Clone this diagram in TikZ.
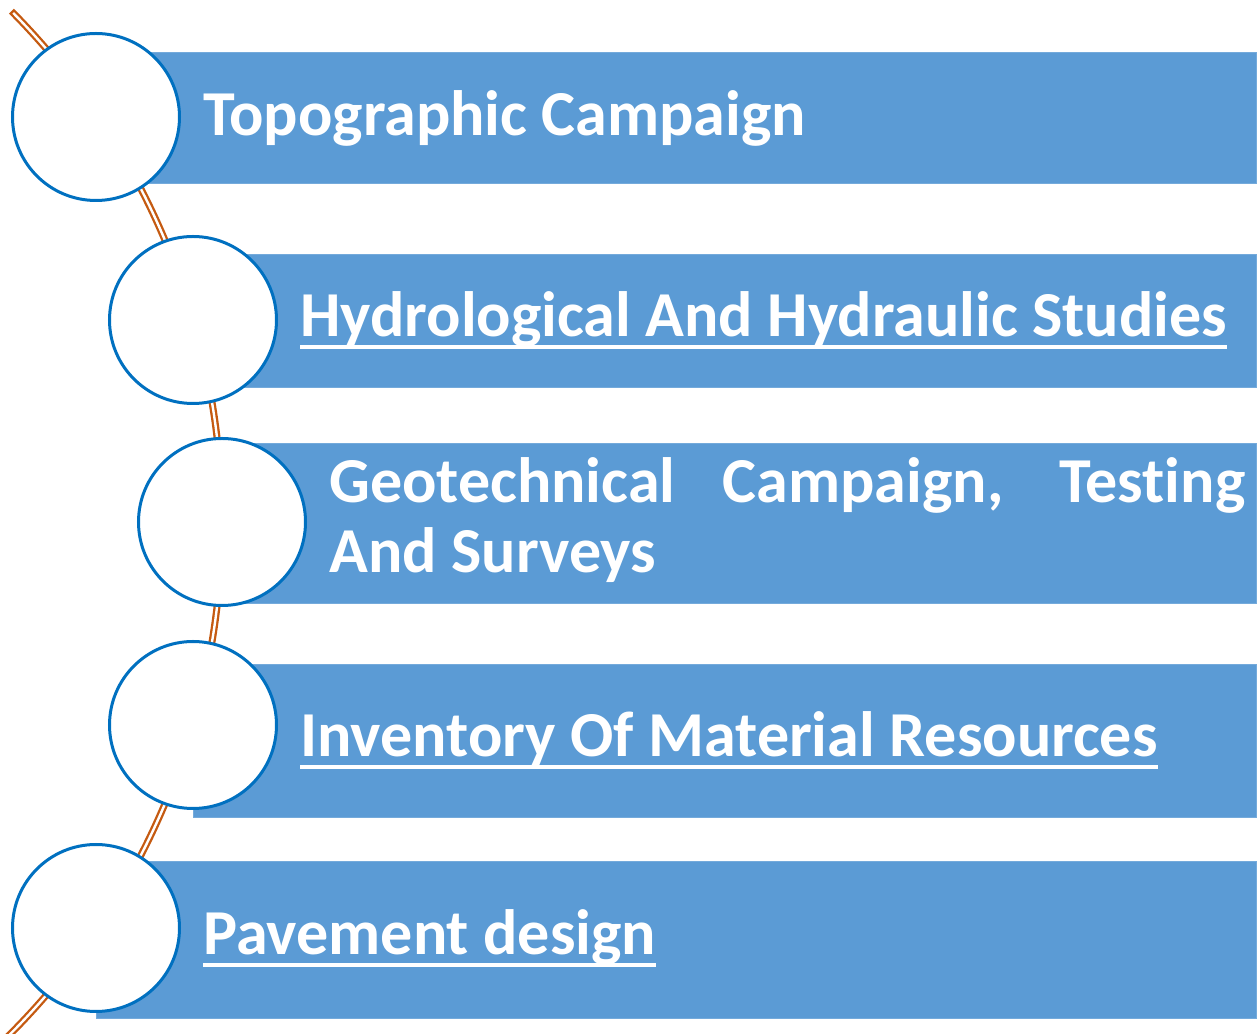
\documentclass[tikz,border=0pt]{standalone}
\usepackage{fontspec}
\usetikzlibrary{calc}
\setmainfont{Carlito}[Ligatures=NoCommon]
\definecolor{barblue}{HTML}{5B9BD5}
\definecolor{ringblue}{HTML}{0070C0}
\definecolor{arcbrown}{HTML}{C55A11}
\newcommand\myul[1]{\setbox0\hbox{#1}\rlap{\rule[-12bp]{\wd0}{3.6bp}}\box0}
\begin{document}
\begin{tikzpicture}[x=1bp,y=1bp,
  bar/.style={fill=barblue,draw=barblue!85!white,line width=0.8bp},
  ring/.style={circle,draw=ringblue,fill=white,line width=3bp,minimum size=167bp,inner sep=0pt},
  label/.style={text=white,font=\fontsize{64.3}{71}\selectfont\bfseries,inner sep=0pt,anchor=base west}]
\useasboundingbox (0,0) rectangle (1257,1034);
% arc behind everything
\coordinate (arcC) at (-503,512);
\coordinate (arcS) at ($(arcC)+(44.8:725bp)$);
\coordinate (arcT) at ($(arcC)+(44.6:725bp)$);
\begin{scope}
\clip (0,0) rectangle (1257,1034);
\draw[arcbrown,line width=7bp] (arcS) arc[start angle=44.8,end angle=-48,radius=725bp];
\draw[white,line width=2.4bp] (arcT) arc[start angle=44.6,end angle=-48,radius=725bp];
\end{scope}
% bars
\path[bar] (96,851) rectangle (1256.5,982);
\path[bar] (193,647) rectangle (1256.5,780);
\path[bar] (222,431) rectangle (1256.5,591);
\path[bar] (193,217) rectangle (1256.5,370);
\path[bar] (96,16) rectangle (1256.5,173);
% circles
\node[ring] (c1) at (96,917) {};
\node[ring] (c2) at (193,714) {};
\node[ring] (c3) at (222,512) {};
\node[ring] (c4) at (193,309) {};
\node[ring] (c5) at (96,106) {};
% labels
\node[label] (t1) at (203,898) {Topographic Campaign};
\node[label] (t2) at (300,697) {\myul{Hydrological And Hydraulic Studies}};
\node[label] (t3) at (329,531) {\parbox[t]{916bp}{\fontsize{64.3}{70}\selectfont\bfseries Geotechnical Campaign, Testing\linebreak And Surveys}};
\node[label] (t4) at (300,277) {\myul{Inventory Of Material Resources}};
\node[label] (t5) at (203,79) {\myul{Pavement design}};
\end{tikzpicture}
\end{document}
